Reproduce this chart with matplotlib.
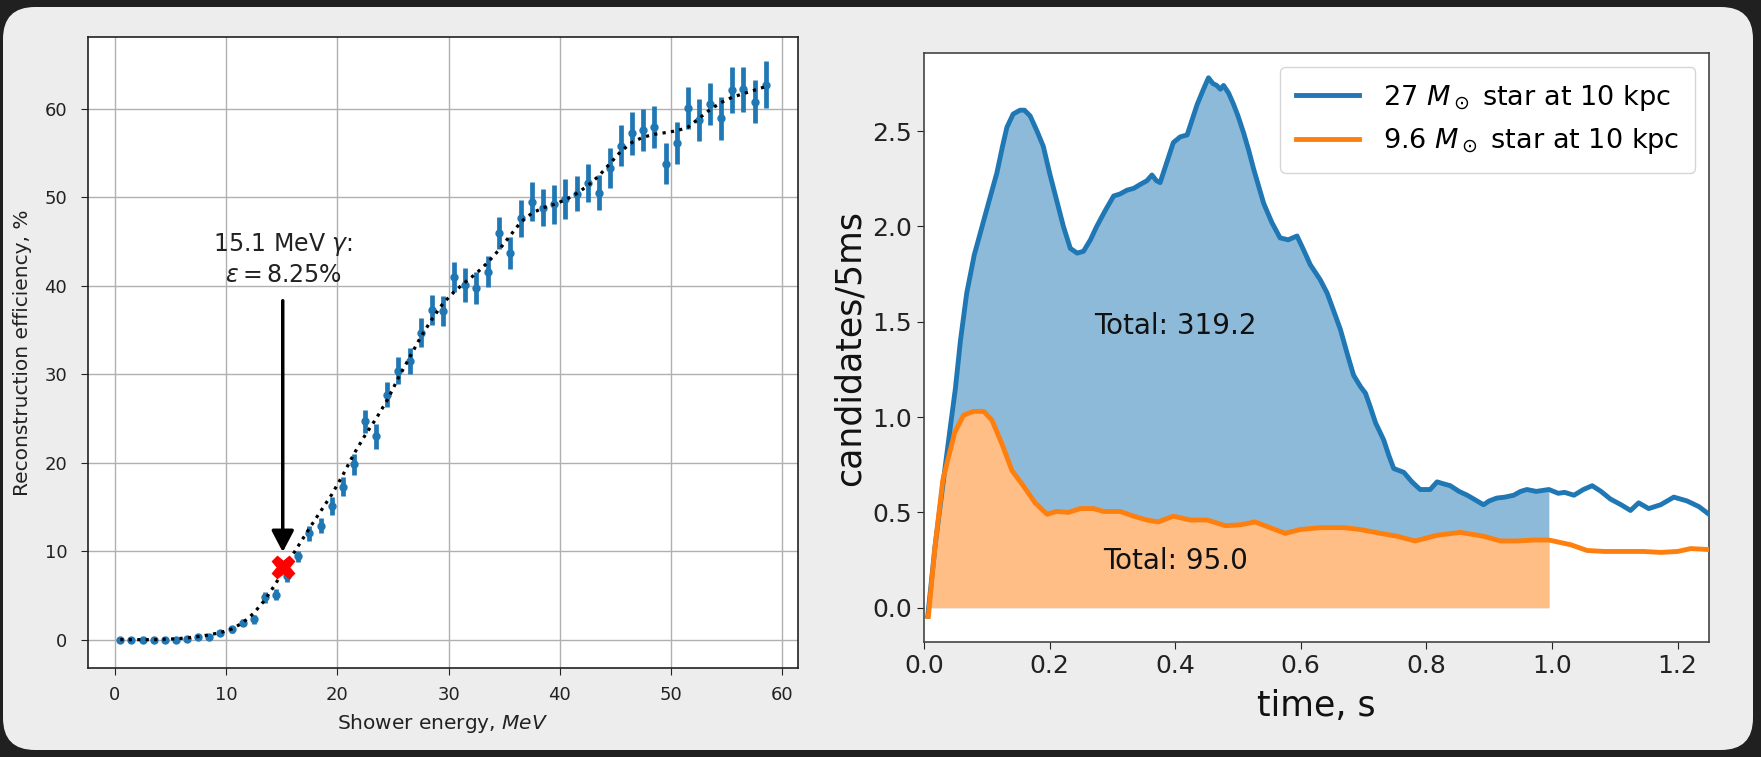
import numpy as np
import matplotlib
matplotlib.use("Agg")
import matplotlib.pyplot as plt
from matplotlib.patches import FancyBboxPatch
from matplotlib.transforms import IdentityTransform

# ---------------- left panel data ----------------
energy = [0.5, 1.5, 2.5, 3.5, 4.5, 5.5, 6.5, 7.5, 8.5, 9.5,
          10.5, 11.5, 12.5, 13.5, 14.5, 15.5, 16.5, 17.5, 18.5, 19.5,
          20.5, 21.5, 22.5, 23.5, 24.5, 25.5, 26.5, 27.5, 28.5, 29.5,
          30.5, 31.5, 32.5, 33.5, 34.5, 35.5, 36.5, 37.5, 38.5, 39.5,
          40.5, 41.5, 42.5, 43.5, 44.5, 45.5, 46.5, 47.5, 48.5, 49.5,
          50.5, 51.5, 52.5, 53.5, 54.5, 55.5, 56.5, 57.5, 58.5]
efficiency = [0.0, 0.0, 0.0, 0.0, 0.0, 0.0, 0.05, 0.35, 0.35, 0.75,
              1.2, 1.9, 2.3, 4.8, 5.1, 7.2, 9.4, 12.0, 12.9, 15.1,
              17.3, 19.8, 24.7, 23.0, 27.7, 30.4, 31.5, 34.7, 37.3, 37.1,
              41.0, 40.1, 39.7, 41.6, 46.0, 43.7, 47.6, 49.5, 48.8, 49.2,
              49.8, 50.4, 51.6, 50.5, 53.3, 55.8, 57.2, 57.6, 57.9, 53.8,
              56.1, 60.1, 58.7, 60.5, 58.9, 62.1, 62.2, 60.8, 62.7]
eff_error = [0.1, 0.1, 0.1, 0.1, 0.1, 0.1, 0.15, 0.3, 0.3, 0.3,
             0.4, 0.4, 0.5, 0.6, 0.6, 0.65, 0.65, 0.85, 0.8, 1.0,
             1.1, 1.2, 1.3, 1.4, 1.4, 1.5, 1.5, 1.6, 1.7, 1.7,
             1.7, 1.9, 1.8, 1.8, 1.8, 1.8, 2.1, 2.2, 2.1, 2.2,
             2.3, 2.0, 2.2, 2.0, 2.3, 2.3, 2.4, 2.35, 2.35, 2.3,
             2.35, 2.35, 2.35, 2.4, 2.4, 2.6, 2.55, 2.45, 2.65]
fit_efficiency = [0.0, 0.0, 0.0, 0.0, 0.05, 0.1, 0.2, 0.35, 0.55, 0.8,
                  1.2, 1.9, 3.0, 4.5, 6.4, 8.6, 10.6, 12.6, 14.5, 16.4,
                  18.6, 21.0, 23.1, 25.0, 27.1, 29.6, 31.9, 34.2, 36.2, 38.0,
                  39.3, 40.4, 41.4, 42.6, 44.0, 45.6, 47.2, 48.2, 48.8, 49.2,
                  49.7, 50.4, 51.3, 52.4, 53.8, 55.2, 56.2, 56.8, 57.1, 57.3,
                  57.5, 57.9, 58.9, 59.9, 60.7, 61.3, 61.7, 62.1, 62.5]
marked_energy = 15.1
marked_eff = 8.25
annotation_text = "15.1 MeV $\\gamma$:\n$\\varepsilon = 8.25\\%$"
left_xticks = [0, 10, 20, 30, 40, 50, 60]
left_yticks = [0, 10, 20, 30, 40, 50, 60]

# ---------------- right panel data ----------------
t_27 = [0.006, 0.0175, 0.031, 0.042, 0.050, 0.058, 0.068, 0.080, 0.095,
        0.105, 0.116, 0.125, 0.132, 0.142, 0.153, 0.160, 0.169, 0.180, 0.190,
        0.200, 0.211, 0.222, 0.233, 0.244, 0.254, 0.265, 0.275, 0.288, 0.302,
        0.312, 0.323, 0.334, 0.344, 0.355, 0.363, 0.370, 0.376, 0.385, 0.397,
        0.408, 0.419, 0.427, 0.435, 0.445, 0.453, 0.460, 0.466, 0.472, 0.477,
        0.485, 0.493, 0.500, 0.509, 0.517, 0.525, 0.533, 0.541, 0.554, 0.567,
        0.580, 0.594, 0.604, 0.615, 0.631, 0.642, 0.652, 0.663, 0.675, 0.684,
        0.695, 0.703, 0.711, 0.719, 0.732, 0.740, 0.748, 0.756, 0.764, 0.777,
        0.790, 0.806, 0.817, 0.827, 0.838, 0.852, 0.865, 0.878, 0.891, 0.900,
        0.912, 0.925, 0.939, 0.950, 0.960, 0.975, 0.995, 1.010, 1.020, 1.035,
        1.050, 1.064, 1.078, 1.093, 1.110, 1.125, 1.138, 1.154, 1.173, 1.194,
        1.215, 1.234, 1.250]
rate_27 = [-0.045, 0.32, 0.67, 0.95, 1.15, 1.40, 1.65, 1.85, 2.03,
           2.15, 2.28, 2.42, 2.52, 2.59, 2.61, 2.61, 2.58, 2.50, 2.42,
           2.28, 2.14, 2.00, 1.885, 1.86, 1.87, 1.93, 2.00, 2.08, 2.16,
           2.17, 2.19, 2.20, 2.22, 2.24, 2.27, 2.24, 2.23, 2.32, 2.44,
           2.47, 2.48, 2.56, 2.64, 2.72, 2.78, 2.75, 2.74, 2.72, 2.74,
           2.70, 2.64, 2.58, 2.49, 2.40, 2.30, 2.21, 2.12, 2.02, 1.94,
           1.93, 1.95, 1.88, 1.80, 1.72, 1.65, 1.56, 1.46, 1.32, 1.22,
           1.16, 1.125, 1.05, 0.97, 0.88, 0.80, 0.73, 0.72, 0.71, 0.66,
           0.62, 0.62, 0.66, 0.65, 0.64, 0.61, 0.59, 0.565, 0.54, 0.56,
           0.575, 0.58, 0.59, 0.61, 0.62, 0.61, 0.62, 0.60, 0.605, 0.59,
           0.62, 0.64, 0.61, 0.57, 0.54, 0.51, 0.55, 0.52, 0.54, 0.58,
           0.56, 0.53, 0.49]
t_96 = [0.007, 0.0175, 0.030, 0.039, 0.049, 0.063, 0.079, 0.095, 0.108, 0.124,
        0.140, 0.158, 0.177, 0.196, 0.211, 0.230, 0.249, 0.270, 0.286, 0.312,
        0.334, 0.355, 0.373, 0.397, 0.424, 0.451, 0.480, 0.504, 0.527, 0.551,
        0.575, 0.599, 0.631, 0.668, 0.695, 0.727, 0.753, 0.782, 0.817, 0.854,
        0.891, 0.918, 0.945, 0.971, 0.995, 1.030, 1.056, 1.083, 1.114, 1.146,
        1.173, 1.200, 1.221, 1.250]
rate_96 = [-0.045, 0.32, 0.67, 0.79, 0.92, 1.01, 1.03, 1.03, 0.985, 0.86,
           0.72, 0.64, 0.55, 0.49, 0.505, 0.50, 0.52, 0.52, 0.505, 0.505,
           0.48, 0.46, 0.45, 0.48, 0.46, 0.46, 0.43, 0.435, 0.45, 0.42,
           0.39, 0.41, 0.42, 0.42, 0.41, 0.39, 0.375, 0.35, 0.38, 0.395,
           0.375, 0.35, 0.35, 0.355, 0.355, 0.33, 0.30, 0.295, 0.295, 0.295,
           0.29, 0.295, 0.31, 0.305]
fill_end = 0.995
label_27 = "27 $M_\\odot$ star at 10 kpc"
label_96 = "9.6 $M_\\odot$ star at 10 kpc"
total_27 = "Total: 319.2"
total_96 = "Total: 95.0"
total_27_pos = (0.40, 1.48)
total_96_pos = (0.40, 0.245)
right_xticks = [0.0, 0.2, 0.4, 0.6, 0.8, 1.0, 1.2]
right_yticks = [0.0, 0.5, 1.0, 1.5, 2.0, 2.5]

C0 = "#1f77b4"
C1 = "#ff7f0e"

W, H = 1761, 757
fig = plt.figure(figsize=(W / 100, H / 100), dpi=100, facecolor="#202020")
panel = FancyBboxPatch((3, 7), 1750, 743, boxstyle="round,pad=0,rounding_size=32",
                       transform=IdentityTransform(), facecolor="#ededed",
                       edgecolor="none", zorder=-10)
fig.patches.append(panel)

# ---------------- left axes ----------------
axL = fig.add_axes([88 / W, 1 - 668 / H, (798 - 88) / W, (668 - 37) / H])
axL.set_facecolor("white")
axL.grid(True, color="#b0b0b0", lw=1.0, zorder=0)
axL.set_axisbelow(True)
axL.errorbar(energy, efficiency, yerr=eff_error, fmt="o", ms=5, color=C0,
             ecolor=C0, elinewidth=3.4, capsize=0, zorder=2)
axL.plot(energy, fit_efficiency, ":", color="black", lw=2.3, zorder=3)
axL.plot([marked_energy], [marked_eff], marker="X", color="red", ms=16,
         mec="red", ls="none", zorder=4)
axL.annotate("", xy=(marked_energy, 9.9), xytext=(marked_energy, 38.3),
             arrowprops=dict(arrowstyle="-|>,head_length=0.65,head_width=0.34",
                             color="black", lw=2.5, shrinkA=0, shrinkB=0,
                             mutation_scale=20), zorder=5)
axL.text(marked_energy, 43.0, annotation_text, ha="center", va="center",
         fontsize=17, color="#222222", linespacing=1.25)
axL.set_xlim(-2.4, 61.4)
axL.set_ylim(-3.2, 68.1)
axL.set_xticks(left_xticks)
axL.set_yticks(left_yticks)
axL.tick_params(labelsize=13, colors="#222222", length=5)
axL.tick_params(axis="x", pad=8)
axL.tick_params(axis="y", pad=10)
axL.set_xlabel("Shower energy, $MeV$", fontsize=14.5, color="#222222", labelpad=6)
axL.set_ylabel("Reconstruction efficiency, %", fontsize=14.5, color="#222222",
               labelpad=9)
for s in axL.spines.values():
    s.set_color("#222222")
    s.set_linewidth(1.2)

# ---------------- right axes ----------------
axR = fig.add_axes([924 / W, 1 - 642 / H, (1709 - 924) / W, (642 - 53) / H])
axR.set_facecolor("white")
t27 = np.array(t_27)
r27 = np.array(rate_27)
t96 = np.array(t_96)
r96 = np.array(rate_96)
m27 = t27 <= fill_end
m96 = t96 <= fill_end
axR.fill_between(t27[m27], 0, r27[m27], color=C0, alpha=0.5, lw=0, zorder=1)
axR.fill_between(t96[m96], 0, r96[m96], color="white", lw=0, zorder=1.1)
axR.fill_between(t96[m96], 0, r96[m96], color=C1, alpha=0.5, lw=0, zorder=1.2)
axR.plot(t27, r27, color=C0, lw=3.5, label=label_27, zorder=3)
axR.plot(t96, r96, color=C1, lw=3.5, label=label_96, zorder=3)
axR.text(*total_27_pos, total_27, ha="center", va="center", fontsize=20, color="#111111")
axR.text(*total_96_pos, total_96, ha="center", va="center", fontsize=20, color="#111111")
axR.set_xlim(0, 1.25)
axR.set_ylim(-0.18, 2.91)
axR.set_xticks(right_xticks)
axR.set_yticks(right_yticks)
axR.tick_params(labelsize=18, colors="#222222", length=5)
axR.set_xlabel("time, s", fontsize=25, color="#111111", labelpad=8)
axR.set_ylabel("candidates/5ms", fontsize=25, color="#111111")
for s in axR.spines.values():
    s.set_color("#444444")
    s.set_linewidth(1.2)
leg = axR.legend(loc="upper right", fontsize=19.5, framealpha=0.8,
                 edgecolor="#cccccc", handlelength=2.3, handletextpad=0.9,
                 borderpad=0.6, borderaxespad=0.5)

fig.savefig("out.png", dpi=100, facecolor=fig.get_facecolor())
